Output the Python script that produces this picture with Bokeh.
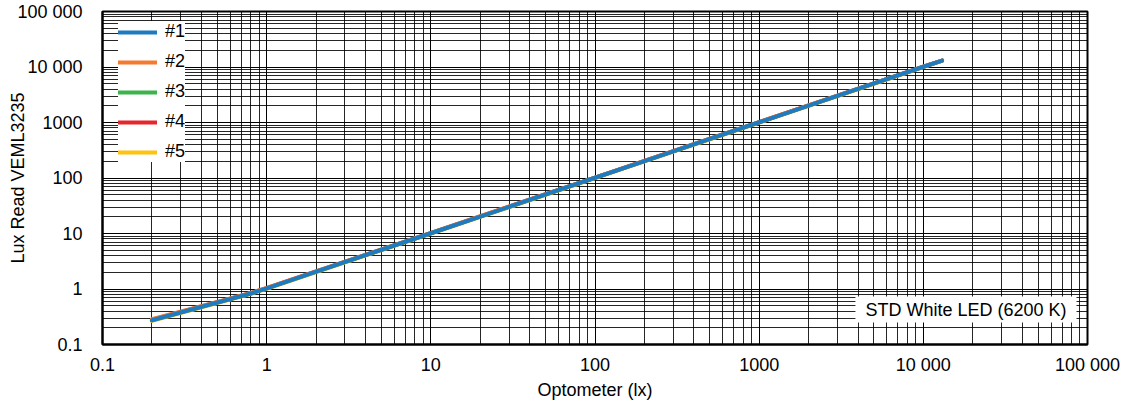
from bokeh.plotting import figure
from bokeh.models import FixedTicker, Legend, LegendItem, Label
from bokeh.embed import file_html
from bokeh.resources import INLINE

# ---- data ----
optometer = [0.2, 0.5, 0.8, 1, 2, 5, 10, 20, 50, 100, 200, 500, 1000, 2000, 5000, 10000, 13000]
s1 = [0.273, 0.57, 0.83, 1.03, 2.05, 5.1, 10.1, 20.2, 50.5, 101, 202, 505, 1010, 2020, 5050, 10100, 13000]
s2 = [0.285, 0.585, 0.85, 1.05, 2.08, 5.15, 10.25, 20.5, 51.2, 102, 204, 510, 1020, 2035, 5080, 10150, 13050]
s3 = [0.272, 0.568, 0.83, 1.03, 2.04, 5.08, 10.1, 20.1, 50.3, 100.5, 201, 503, 1005, 2010, 5030, 10080, 13000]
s4 = [0.28, 0.58, 0.84, 1.04, 2.07, 5.13, 10.2, 20.4, 51, 101.5, 203, 508, 1015, 2030, 5070, 10120, 13020]
s5 = [0.266, 0.56, 0.82, 1.01, 2.02, 5.02, 10.0, 19.9, 49.8, 99.5, 199, 498, 995, 1990, 4980, 10000, 12950]
series = [("#1", s1, "#1f7bbf"), ("#2", s2, "#f47a30"), ("#3", s3, "#3cb44b"),
          ("#4", s4, "#e5262b"), ("#5", s5, "#ffc20e")]

tick_vals = [0.1, 1, 10, 100, 1000, 10000, 100000]
tick_text = ["0.1", "1", "10", "100", "1000", "10 000", "100 000"]
minor_vals = [k * 10.0 ** e for e in range(-1, 5) for k in range(2, 10)]
x_title = "Optometer (lx)"
y_title = "Lux Read VEML3235"
note_text = "STD White LED (6200 K)"

FONT = "Liberation Sans"
FS = "18px"

p = figure(width=1123, height=410, x_axis_type="log", y_axis_type="log",
           x_range=(0.1, 100000), y_range=(0.1, 100000),
           output_backend="svg", toolbar_location=None,
           min_border_left=102, min_border_right=36, min_border_top=11, min_border_bottom=66)

p.outline_line_color = "black"
p.outline_line_width = 2

for ax in (p.xaxis[0], p.yaxis[0]):
    ax.ticker = FixedTicker(ticks=tick_vals, minor_ticks=minor_vals)
    ax.major_label_overrides = {v: t for v, t in zip(tick_vals, tick_text)}
    ax.major_tick_line_color = None
    ax.minor_tick_line_color = None
    ax.axis_line_color = "black"
    ax.axis_line_width = 2
    ax.major_label_text_font = FONT
    ax.major_label_text_font_size = FS
    ax.major_label_text_color = "black"
    ax.axis_label_text_font = FONT
    ax.axis_label_text_font_size = FS
    ax.axis_label_text_font_style = "normal"
    ax.axis_label_text_color = "black"

p.xaxis.axis_label = x_title
p.yaxis.axis_label = y_title
p.xaxis.major_label_standoff = 4
p.xaxis.axis_label_standoff = 2
p.xaxis.axis_label_text_baseline = "middle"
p.yaxis.major_label_standoff = 14
p.yaxis.axis_label_standoff = -14

for g in (p.xgrid[0], p.ygrid[0]):
    g.grid_line_color = "black"
    g.grid_line_width = 1
    g.minor_grid_line_color = "black"
    g.minor_grid_line_width = 1
    g.minor_grid_line_alpha = 0.85

renderers = {}
for name, ys, col in reversed(series):
    renderers[name] = p.line(optometer, ys, line_color=col, line_width=4, line_cap="round")

legend = Legend(items=[LegendItem(label=n, renderers=[renderers[n]]) for n, _, _ in series],
                location=(16, 182))
legend.background_fill_color = "white"
legend.background_fill_alpha = 1
legend.border_line_color = None
legend.padding = 3
legend.margin = 0
legend.spacing = 9
legend.glyph_width = 39
legend.glyph_height = 20
legend.label_height = 20
legend.label_standoff = 8
legend.label_text_font = FONT
legend.label_text_font_size = FS
legend.label_text_color = "black"
p.add_layout(legend)

note = Label(x=100000, y=0.1, x_offset=-11, y_offset=22, text=note_text,
             text_align="right", text_baseline="bottom", text_font=FONT, text_font_size=FS,
             text_color="black", background_fill_color="white", padding=(10, 3))
p.add_layout(note)

open("out.html", "w").write(file_html(p, INLINE))
